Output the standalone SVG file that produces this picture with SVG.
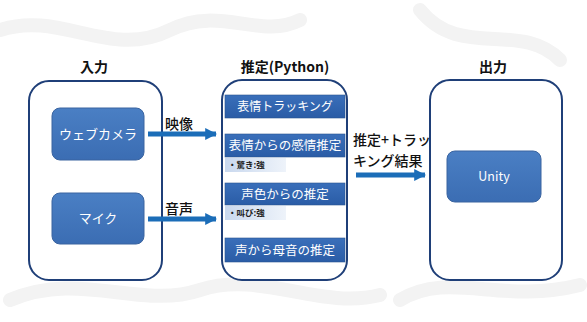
<svg xmlns="http://www.w3.org/2000/svg" width="587" height="322" viewBox="0 0 587 322">
<defs>
<linearGradient id="gBox" x1="0" y1="0" x2="0" y2="1">
<stop offset="0" stop-color="#4a7fc4"/><stop offset="1" stop-color="#3b6db3"/>
</linearGradient>
<linearGradient id="gMid" x1="0" y1="0" x2="0" y2="1">
<stop offset="0" stop-color="#3a6fba"/><stop offset="1" stop-color="#2a5ca6"/>
</linearGradient>
<linearGradient id="gSub" x1="0" y1="0" x2="1" y2="0">
<stop offset="0" stop-color="#c9d8ee"/><stop offset="1" stop-color="#eef3fa"/>
</linearGradient>
<marker id="ah" viewBox="0 0 10 10" refX="9" refY="5" markerWidth="2.4" markerHeight="3" orient="auto" markerUnits="strokeWidth">
<path d="M0,0 L10,5 L0,10 z" fill="#1b6db8"/>
</marker>
</defs>
<style>
.cont{fill:#ffffff;stroke:#1f3f78;stroke-width:2}
.box{fill:url(#gBox);stroke:#3a64a0;stroke-width:1}
.mid{fill:url(#gMid);stroke:#2b5590;stroke-width:0.6}
.sub{fill:url(#gSub)}
.t{font-family:"Noto Sans CJK JP","Liberation Sans",sans-serif;fill:#ffffff;text-anchor:middle}
.h{font-family:"Noto Sans CJK JP","Liberation Sans",sans-serif;fill:#111111;font-weight:bold;font-size:14px;text-anchor:middle}
.l{font-family:"Noto Sans CJK JP","Liberation Sans",sans-serif;fill:#111111;font-size:14px;font-weight:500}
.s{font-family:"Noto Sans CJK JP","Liberation Sans",sans-serif;fill:#222222;font-size:8.5px;font-weight:bold}
.arr{stroke:#1b6db8;stroke-width:5;fill:none;marker-end:url(#ah)}
.bg{fill:none;stroke:#f3f3f3;stroke-width:14;stroke-linecap:round}
</style>
<rect width="587" height="322" fill="#ffffff"/>
<g id="bg">
<path class="bg" d="M0,30 C60,10 110,60 170,30 C220,5 260,40 300,20"/>
<path class="bg" d="M420,10 C460,60 520,20 560,60"/>
<path class="bg" d="M10,300 C80,270 140,310 200,290 C260,270 320,310 380,295"/>
<path class="bg" d="M400,300 C450,270 500,305 580,285"/>
</g>
<g id="input">
<rect class="cont" x="29" y="81" width="133" height="199" rx="20"/>
<text class="h" x="94" y="72">入力</text>
</g>
<g id="webcam">
<rect class="box" x="52" y="108" width="92" height="52" rx="8"/>
<text class="t" x="98" y="139" font-size="13">ウェブカメラ</text>
</g>
<g id="mic">
<rect class="box" x="52" y="193" width="92" height="51" rx="8"/>
<text class="t" x="98" y="223" font-size="13">マイク</text>
</g>
<g id="estimate">
<rect class="cont" x="222" y="80" width="125" height="200" rx="20"/>
<text class="h" x="285" y="72">推定(Python)</text>
</g>
<g id="tracking">
<rect class="mid" x="225" y="95" width="120" height="23"/>
<text class="t" x="285" y="111" font-size="12">表情トラッキング</text>
</g>
<g id="face-emotion">
<rect class="mid" x="225" y="134" width="120" height="23"/>
<text class="t" x="285" y="150" font-size="12.5">表情からの感情推定</text>
<rect class="sub" x="225" y="158" width="61" height="14"/>
<text class="s" x="228" y="168">・驚き:強</text>
</g>
<g id="voice-tone">
<rect class="mid" x="225" y="183" width="120" height="22"/>
<text class="t" x="285" y="198.5" font-size="12.5">声色からの推定</text>
<rect class="sub" x="225" y="206" width="61" height="14"/>
<text class="s" x="228" y="216">・叫び:強</text>
</g>
<g id="vowel">
<rect class="mid" x="225" y="238" width="120" height="24"/>
<text class="t" x="285" y="254.5" font-size="12.5">声から母音の推定</text>
</g>
<g id="output">
<rect class="cont" x="430" y="80" width="132" height="200" rx="20"/>
<text class="h" x="493" y="72">出力</text>
</g>
<g id="unity">
<rect class="box" x="447" y="151" width="94" height="51" rx="8"/>
<text class="t" x="494" y="181" font-size="12.5">Unity</text>
</g>
<g id="connectors">
<line class="arr" x1="148" y1="134" x2="216" y2="134"/>
<text class="l" x="165" y="129">映像</text>
<line class="arr" x1="148" y1="219" x2="216" y2="219"/>
<text class="l" x="165" y="214">音声</text>
<line class="arr" x1="356" y1="175" x2="425" y2="175"/>
<text class="l" x="353" y="145" font-size="13.5">推定+トラッ</text>
<text class="l" x="353" y="166" font-size="13.5">キング結果</text>
</g>
</svg>
